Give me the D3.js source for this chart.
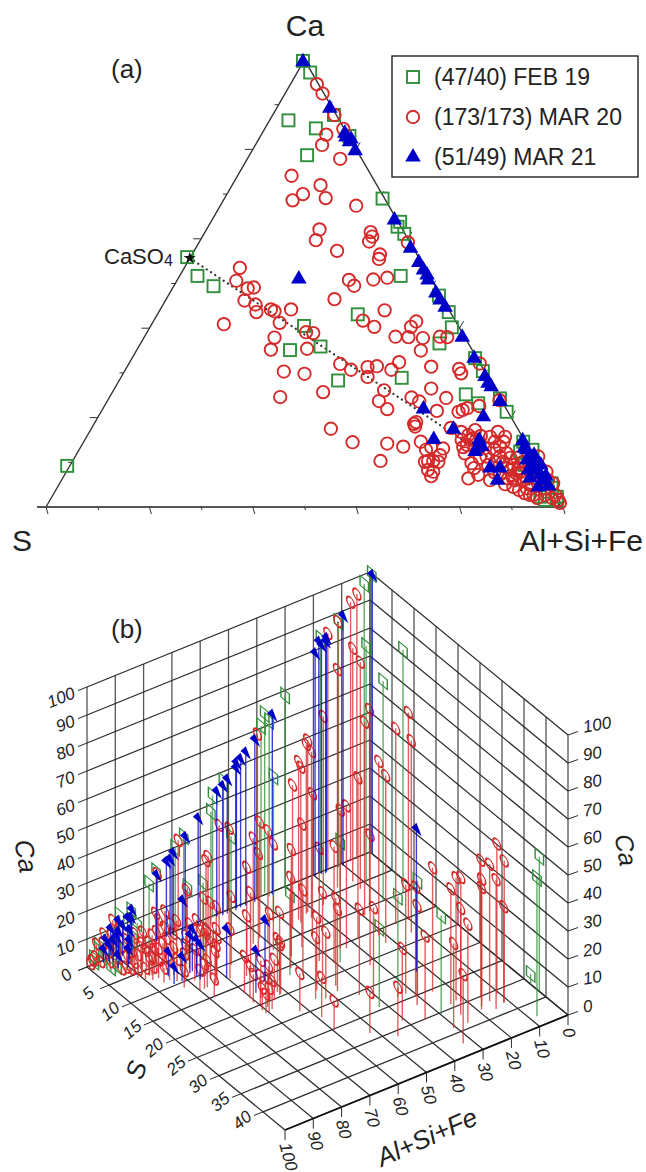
<!DOCTYPE html>
<html>
<head>
<meta charset="utf-8">
<script src="https://d3js.org/d3.v7.min.js"></script>
<style>
  html, body { margin: 0; background: #fff; }
  svg { display: block; }
  text { font-family: "Liberation Sans", Arial, sans-serif; fill: #222; }
</style>
</head>
<body>
<script>
// each point is [position along the ternary base 0-100, Ca %, measured total % if not 100]
// a total of 0 means the sample is left out of the 3D panel (47/40)
const febPoints = [[49.7,99.8],[51.1,97.2],[55.7,87.7],[46.9,86.5],[52.2,84.7],[58.7,83.0],[50.5,78.7],[65.1,69.0],[68.5,63.8],[68.0,62.7],[69.3,61.1],[68.6,51.7],[76.0,47.3],[77.9,43.6],[78.5,40.2],[76.1,36.6],[60.3,43.1],[83.0,33.3],[84.5,30.4],[87.8,24.3],[89.1,21.3],[81.2,25.2],[83.6,23.2],[68.8,28.9],[27.3,55.9,86],[29.3,51.7,0],[32.4,49.4],[49.9,40.5],[47.2,35.1],[53.1,35.9],[56.5,28.3],[92.3,14.6],[94.1,12.8],[91.7,12.4],[97.8,5.3],[98.8,2.3],[95.6,2.3],[98.8,1.6],[4.1,9.2,40],[92.6,9.4],[97.1,3.4],[94.6,8.3],[97.9,4.3],[95.2,6.5],[96.5,1.6]];

const marPoints = [[52.4,94.6],[53.5,92.5],[55.8,87.7],[57.5,84.6],[54.2,83.3],[53.4,81.0],[56.9,77.9],[47.5,74.1],[53.1,72.0],[49.7,70.0],[47.7,68.6],[54.1,69.1],[60.0,67.4],[52.9,62.1],[52.2,59.7],[62.8,61.5],[63.1,60.5],[62.5,59.4],[64.6,56.5],[64.4,55.5],[70.0,59.2],[56.3,57.3],[58.6,50.8],[59.6,49.5],[63.3,50.9],[66.0,51.3],[55.8,46.5],[65.5,44.0],[61.3,41.7],[63.5,40.3],[71.6,41.5],[70.6,40.3],[67.6,38.1],[70.1,38.0],[72.9,37.8],[76.2,38.1],[77.6,38.0],[72.5,35.0],[56.9,32.0],[59.0,30.7],[62.2,31.3],[64.0,31.5],[62.2,29.1],[66.8,30.7],[68.3,32.4],[74.5,31.4],[79.9,30.9],[80.3,29.9],[83.9,32.1],[74.5,26.5],[77.4,24.4],[65.4,26.1],[64.4,23.7],[66.0,21.9],[70.7,24.5],[72.2,23.6],[75.6,21.5],[79.8,21.3],[80.6,21.7],[81.5,22.1],[83.8,22.6],[87.7,23.9],
  [37.5,53.5],[36.8,50.6],[39.0,48.9],[40.2,49.1],[38.4,46.2],[40.5,45.3],[40.7,43.6],[43.5,44.2],[44.2,43.8],[47.4,44.2],[34.4,40.9,84],[45.2,41.2],[44.2,37.9],[43.5,35.2],[50.3,39.1],[51.7,38.9],[50.5,35.4],[46.0,30.3],[50.0,29.8],[45.3,24.6],[53.6,25.7],[55.1,17.5],[59.3,14.5],[66.0,14.2],[69.1,13.5],[64.7,10.3],[71.2,18.6],[71.4,18.0],[71.6,19.0],
  [72.5,14.6],[76.8,13.1],[73.5,12.8],[73.9,10.3],[74.9,10.3],[75.9,10.1],[74.9,7.9],[80.4,15.0],[81.7,16.1],[83.0,17.2],[81.4,13.9],[81.0,12.0],[82.3,9.8],[81.7,6.4],[83.6,7.2],[85.9,15.7],[86.8,14.6],[88.5,14.6],[87.8,13.5],[89.1,12.0],[87.8,11.3],[85.2,11.3],[85.5,9.4],[90.4,9.4],[91.4,8.7],[91.0,7.5],[89.8,8.3],[90.7,6.0],[89.4,6.4],[90.4,4.5],[92.3,6.0],[93.0,4.2],[93.9,4.9],[92.6,3.1],[94.3,2.7],[95.6,3.8],[99.1,1.6],[96.2,6.0],[95.2,11.3],[96.8,7.9],[98.1,5.3],
  [84.1,15.9],[87.4,16.8],[88.8,15.7],[82.0,15.0],[83.2,15.0],[80.7,13.4],[84.9,13.2],[86.7,12.8],[89.8,11.0],[91.1,11.0],[92.3,10.1],[93.6,8.3],[86.9,10.1],[88.4,10.1],[89.2,8.7],[91.7,7.8],[93.0,6.5],[94.6,6.5],[91.5,3.8],[88.8,5.1],[90.3,6.5],[93.6,2.7],[95.0,2.0],[96.5,2.7],[97.9,2.0],[97.1,6.0],[95.7,8.3],[94.4,10.1],[99.4,0.9],[98.5,2.7],[73.3,10.1],[74.5,13.4],[76.2,11.6],[73.9,8.3],[74.5,6.9],[82.6,15.4],[80.3,16.8],[78.3,17.7],[83.9,11.0],[82.8,8.7],[87.8,7.2],[86.7,7.8],[85.9,6.0]];

const mar21Points = [[49.7,99.6],[54.9,89.2],[57.8,83.6],[58.0,82.8],[58.7,81.7],[59.8,79.7],[67.4,64.2],[70.5,57.9],[72.1,54.7],[73.0,53.0],[73.9,50.8],[75.4,47.9],[77.2,44.7],[80.5,38.0],[82.8,33.3],[84.9,29.2],[86.1,26.9],[87.8,23.6],[84.6,20.2],[73.0,21.9],[78.8,17.4],[75.0,15.1],[48.9,51.0],[84.3,13.6],[83.0,12.4],[92.2,14.8],[93.0,12.8],[93.9,10.9],[94.6,9.4],[95.6,7.2],[97.2,4.7],[85.9,8.7],[87.8,8.7],[87.3,6.0],[93.3,8.3],[95.0,8.3],[93.6,6.5],[94.4,11.6],[92.5,13.2],[96.3,6.0],[95.7,9.4],[83.4,13.2],[83.8,15.0],[59.0,82.3],[73.7,51.9],[76.2,46.3],[85.5,27.7],[96.7,6.9],[95.2,4.5],[93.0,10.5]];

const legendLabels = ["(47/40) FEB 19", "(173/173) MAR 20", "(51/49) MAR 21"];
const caso4Point = [27.8, 55.7];
const ternaryTicks = [10, 20, 30, 40, 50, 60, 70, 80, 90, 100];
const ternaryBaseTicks = [0, 10, 20, 30, 40, 50, 60, 70, 80, 90, 100];

const caTicks = [0, 10, 20, 30, 40, 50, 60, 70, 80, 90, 100];
const sTicks = [0, 5, 10, 15, 20, 25, 30, 35, 40];
const sLines = [0, 5, 10, 15, 20, 25, 30, 35, 40, 45];
const alTicks = [0, 10, 20, 30, 40, 50, 60, 70, 80, 90, 100];

const green = "#2f8f3a";
const red = "#d42a2a";
const blue = "#0000c8";
const ink = "#333";

const svg = d3.select("body").append("svg")
  .attr("width", 646)
  .attr("height", 1172);

// ternary panel (a)
const xBase = d3.scaleLinear().domain([0, 100]).range([46, 563]);
const yCa = d3.scaleLinear().domain([0, 100]).range([507, 60]);

const triangle = (sel, size) => sel.attr("d", d3.symbol(d3.symbolTriangle, size));

const drawTernary = () => {
  const g = svg.append("g");
  const edge = d3.line().x((d) => xBase(d[0])).y((d) => yCa(d[1]));

  g.append("path")
    .attr("d", edge([[0, 0], [50, 100], [100, 0]]))
    .attr("fill", "none")
    .attr("stroke", ink)
    .attr("stroke-width", 1.4);

  g.append("line")
    .attr("x1", 37).attr("x2", xBase(100))
    .attr("y1", yCa(0)).attr("y2", yCa(0))
    .attr("stroke", "#555")
    .attr("stroke-width", 1.8);

  g.selectAll(".base-tick").data(ternaryBaseTicks).enter().append("line")
    .attr("x1", (d) => xBase(d))
    .attr("y1", yCa(0))
    .attr("x2", (d) => xBase(d) + (d % 20 === 0 ? 2 : 1))
    .attr("y2", (d) => yCa(0) + (d % 20 === 0 ? 7 : 3))
    .attr("stroke", ink);

  g.selectAll(".left-tick").data(ternaryTicks.slice(0, 9)).enter().append("line")
    .attr("x1", (d) => xBase(d / 2))
    .attr("y1", (d) => yCa(d))
    .attr("x2", (d) => xBase(d / 2) - (d % 20 === 0 ? 8 : 4))
    .attr("y2", (d) => yCa(d))
    .attr("stroke", ink);

  g.selectAll(".right-tick").data(ternaryTicks.slice(0, 9)).enter().append("line")
    .attr("x1", (d) => xBase(100 - d / 2))
    .attr("y1", (d) => yCa(d))
    .attr("x2", (d) => xBase(100 - d / 2) + (d % 20 === 0 ? 4 : 2))
    .attr("y2", (d) => yCa(d) - (d % 20 === 0 ? 7 : 3))
    .attr("stroke", ink);

  g.append("path")
    .attr("d", edge([caso4Point, [100, 0]]))
    .attr("fill", "none")
    .attr("stroke", ink)
    .attr("stroke-width", 2.2)
    .attr("stroke-linecap", "round")
    .attr("stroke-dasharray", "0.1 5");

  g.selectAll(".feb").data(febPoints).enter().append("rect")
    .attr("x", (d) => xBase(d[0]) - 6)
    .attr("y", (d) => yCa(d[1]) - 6)
    .attr("width", 12)
    .attr("height", 12)
    .attr("fill", "none")
    .attr("stroke", green)
    .attr("stroke-width", 1.9);

  g.selectAll(".mar").data(marPoints).enter().append("circle")
    .attr("cx", (d) => xBase(d[0]))
    .attr("cy", (d) => yCa(d[1]))
    .attr("r", 6.2)
    .attr("fill", "none")
    .attr("stroke", red)
    .attr("stroke-width", 1.9);

  g.selectAll(".mar21").data(mar21Points).enter().append("path")
    .call(triangle, 105)
    .attr("transform", (d) => `translate(${xBase(d[0])},${yCa(d[1])})`)
    .attr("fill", blue);

  g.append("path")
    .attr("d", d3.symbol(d3.symbolStar, 45))
    .attr("transform", `translate(${xBase(caso4Point[0])},${yCa(caso4Point[1])})`)
    .attr("fill", "#111");

  const caso4 = g.append("text").attr("x", 104).attr("y", 264).attr("font-size", 22);
  caso4.append("tspan").text("CaSO");
  caso4.append("tspan").attr("font-size", 16).attr("dy", 2).text("4");

  g.append("text").attr("x", 305).attr("y", 36).attr("font-size", 30).attr("text-anchor", "middle").text("Ca");
  g.append("text").attr("x", 12).attr("y", 551).attr("font-size", 30).text("S");
  g.append("text").attr("x", 643).attr("y", 551).attr("font-size", 30).attr("text-anchor", "end").text("Al+Si+Fe");
  g.append("text").attr("x", 111).attr("y", 78).attr("font-size", 26).text("(a)");

  // legend
  g.append("rect")
    .attr("x", 392).attr("y", 56)
    .attr("width", 246).attr("height", 121)
    .attr("fill", "#fff")
    .attr("stroke", "#222")
    .attr("stroke-width", 1.4);

  const rows = g.selectAll(".row").data(legendLabels).enter().append("g")
    .attr("transform", (d, i) => `translate(413,${77 + i * 40})`);

  rows.append("text")
    .attr("x", 21)
    .attr("y", 8)
    .attr("font-size", 23)
    .text((d) => d);

  rows.filter((d, i) => i === 0).append("rect")
    .attr("x", -6).attr("y", -6).attr("width", 12).attr("height", 12)
    .attr("fill", "none").attr("stroke", green).attr("stroke-width", 1.9);
  rows.filter((d, i) => i === 1).append("circle")
    .attr("r", 6.2)
    .attr("fill", "none").attr("stroke", red).attr("stroke-width", 1.9);
  rows.filter((d, i) => i === 2).append("path")
    .call(triangle, 105)
    .attr("fill", blue);
};

// 3D panel (b), same samples split back into Al+Si+Fe, S and Ca
const toTriple = ([base, ca, total = 100]) => {
  const t = total / 100;
  return { total, ca: ca * t, al: Math.max(0, base - ca / 2) * t, s: (100 - base - ca / 2) * t };
};

const alX = d3.scaleLinear().domain([0, 100]).range([0, -283]);
const alY = d3.scaleLinear().domain([0, 100]).range([0, 115]);
const sX = d3.scaleLinear().domain([0, 45]).range([0, 198]);
const sY = d3.scaleLinear().domain([0, 45]).range([0, 163]);
const caY = d3.scaleLinear().domain([0, 100]).range([0, -280]);

const px = (al, s) => 370 + alX(al) + sX(s);
const py = (al, s, ca) => 852 + alY(al) + sY(s) + caY(ca);

const segment = (sel, a, b, color, width) => sel
  .attr("x1", (d) => px(...a(d)))
  .attr("y1", (d) => py(...a(d)))
  .attr("x2", (d) => px(...b(d)))
  .attr("y2", (d) => py(...b(d)))
  .attr("stroke", color)
  .attr("stroke-width", width);

const drawGrid = (g) => {
  const wall = "#555";
  const line = "#2a2a2a";

  // left wall
  g.selectAll(".lv").data(alTicks).enter().append("line")
    .call(segment, (d) => [d, 0, 0], (d) => [d, 0, 100], wall, 1.3);
  g.selectAll(".lh").data(caTicks).enter().append("line")
    .call(segment, (d) => [0, 0, d], (d) => [100, 0, d], line, 1.2);

  // right wall
  g.selectAll(".rv").data(sLines).enter().append("line")
    .call(segment, (d) => [0, d, 0], (d) => [0, d, 100], wall, 1.3);
  g.selectAll(".rh").data(caTicks).enter().append("line")
    .call(segment, (d) => [0, 0, d], (d) => [0, 45, d], line, 1.2);

  // floor
  g.selectAll(".fa").data(alTicks).enter().append("line")
    .call(segment, (d) => [d, 0, 0], (d) => [d, 45, 0], line, 1.2);
  g.selectAll(".fs").data(sLines).enter().append("line")
    .call(segment, (d) => [0, d, 0], (d) => [100, d, 0], line, 1.2);

  g.append("line").datum(0)
    .call(segment, () => [0, 45, 0], () => [100, 45, 0], "#111", 1.8);

  // ticks
  g.selectAll(".tl").data(caTicks).enter().append("line")
    .attr("x1", px(100, 0)).attr("y1", (d) => py(100, 0, d))
    .attr("x2", px(100, 0) - 9).attr("y2", (d) => py(100, 0, d) + 3.6)
    .attr("stroke", line);
  g.selectAll(".tr").data(caTicks).enter().append("line")
    .attr("x1", px(0, 45)).attr("y1", (d) => py(0, 45, d))
    .attr("x2", px(0, 45) + 10).attr("y2", (d) => py(0, 45, d) - 3.5)
    .attr("stroke", line);
  g.selectAll(".ts").data(sTicks).enter().append("line")
    .attr("x1", (d) => px(100, d)).attr("y1", (d) => py(100, d, 0))
    .attr("x2", (d) => px(100, d) - 9).attr("y2", (d) => py(100, d, 0) + 3.6)
    .attr("stroke", line);
  g.selectAll(".ta").data(alTicks).enter().append("line")
    .attr("x1", (d) => px(d, 45)).attr("y1", (d) => py(d, 45, 0))
    .attr("x2", (d) => px(d, 45)).attr("y2", (d) => py(d, 45, 0) + 10)
    .attr("stroke", line);

  // tick labels
  const tickText = (data, cls, x, y, rotate, anchor) => g.selectAll(cls).data(data).enter().append("text")
    .attr("transform", (d) => `translate(${x(d)},${y(d)}) rotate(${rotate})`)
    .attr("text-anchor", anchor)
    .attr("dy", "0.35em")
    .attr("font-size", 17)
    .attr("font-style", "italic")
    .text((d) => d);

  tickText(caTicks.slice(1), ".cl", () => px(100, 0) - 13, (d) => py(100, 0, d) + 5, -22, "end");
  tickText(caTicks, ".cr", () => px(0, 45) + 15, (d) => py(0, 45, d) - 8, -10, "start");
  tickText(sTicks, ".sl", (d) => px(100, d) - 21, (d) => py(100, d, 0) + 8, -40, "middle");
  tickText(alTicks, ".al", (d) => px(d, 45), (d) => py(d, 45, 0) + 13, 75, "start");

  const title = (x, y, rotate, size, label) => g.append("text")
    .attr("transform", `translate(${x},${y}) rotate(${rotate})`)
    .attr("text-anchor", "middle")
    .attr("dy", "0.35em")
    .attr("font-size", size)
    .attr("font-style", "italic")
    .text(label);

  title(26, 856, 80, 26, "Ca");
  title(626, 850, 80, 25, "Ca");
  title(136, 1070, -72, 26, "S");
  title(427, 1137, -24, 26, "Al+Si+Fe");

  g.append("text").attr("x", 111).attr("y", 638).attr("font-size", 26).text("(b)");
};

const drawSeries = (g, points, color, marker) => {
  const data = points.map(toTriple).filter((d) => d.total > 0 && d.s <= 46);

  g.append("g").selectAll("line").data(data).enter().append("line")
    .call(segment, (d) => [d.al, d.s, 0], (d) => [d.al, d.s, d.ca], color, 1.4)
    .attr("stroke-opacity", 0.75);

  // markers sit in the S-Ca plane, so they are sheared along the S axis
  const shear = sY(45) / sX(45);
  g.append("g").selectAll("g").data(data).enter().append("g")
    .attr("transform", (d) => `translate(${px(d.al, d.s)},${py(d.al, d.s, d.ca)}) matrix(1,${shear},0,1,0,0)`)
    .call(marker);
};

const squareMark = (sel) => sel.append("rect")
  .attr("x", -4.2).attr("y", -4.8).attr("width", 8.4).attr("height", 9.6)
  .attr("fill", "none").attr("stroke", green).attr("stroke-width", 1.4);

const circleMark = (sel) => sel.append("ellipse")
  .attr("rx", 4).attr("ry", 4.8)
  .attr("fill", "none").attr("stroke", red).attr("stroke-width", 1.5);

const triangleMark = (sel) => sel.append("path")
  .call(triangle, 48)
  .attr("fill", blue);

const drawCube = () => {
  const g = svg.append("g");
  drawGrid(g);
  drawSeries(g, febPoints, green, squareMark);
  drawSeries(g, marPoints, red, circleMark);
  drawSeries(g, mar21Points, blue, triangleMark);
};

drawTernary();
drawCube();
</script>
</body>
</html>
